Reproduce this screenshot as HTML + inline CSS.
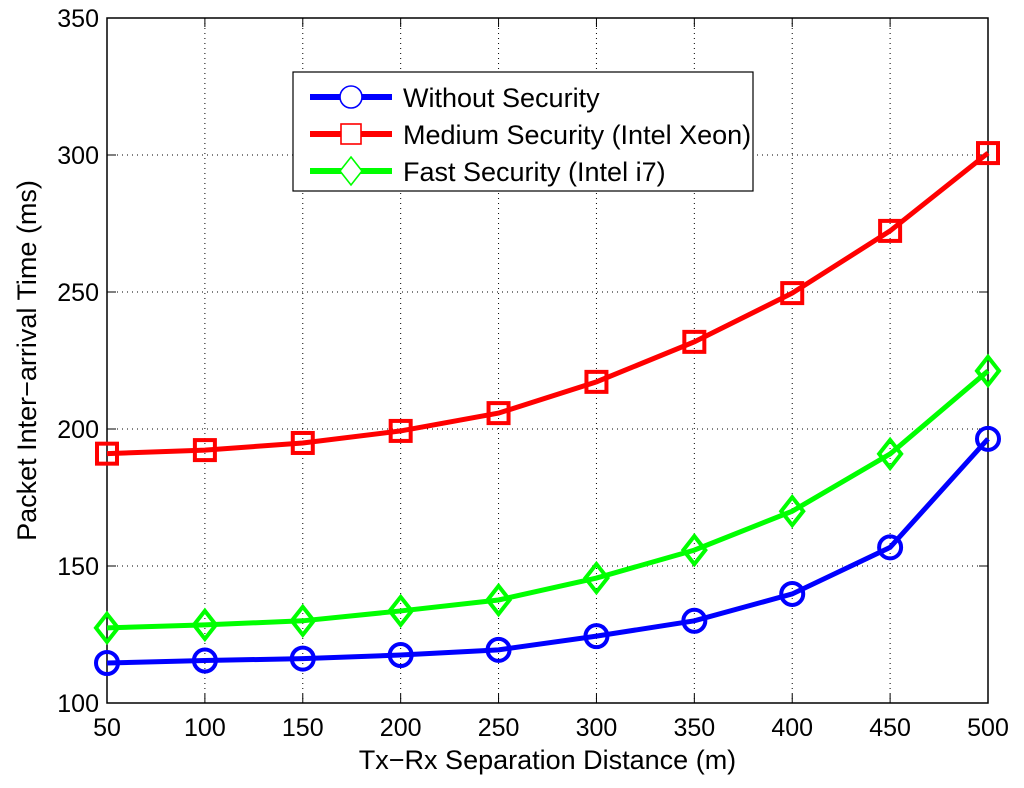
<!DOCTYPE html>
<html><head><meta charset="utf-8"><style>
body{margin:0;background:#fff;}
svg{display:block;font-family:"Liberation Sans",Arial,sans-serif;}
</style></head><body>
<svg id="chart" width="1024" height="788" viewBox="0 0 1024 788" xmlns="http://www.w3.org/2000/svg"></svg>
<script>
const categories=[50,100,150,200,250,300,350,400,450,500];
const withoutSecurity=[114.6,115.5,116.2,117.5,119.4,124.4,130,139.8,156.8,196.4];
const mediumSecurity=[191,192.3,194.9,199.3,205.8,217.2,231.8,249.6,272.3,300.7];
const fastSecurity=[127.4,128.5,130,133.6,137.6,145.6,155.8,170,190.9,221.2];
const xTicks=[50,100,150,200,250,300,350,400,450,500];
const yTicks=[100,150,200,250,300,350];

const L=107,R=988,T=18,B=703;
const xs=v=>L+(v-50)/(450)*(R-L);
const ys=v=>B-(v-100)/250*(B-T);
const svg=document.getElementById('chart');
const NS='http://www.w3.org/2000/svg';
function mk(tag,attrs,parent){const e=document.createElementNS(NS,tag);for(const k in attrs)e.setAttribute(k,attrs[k]);(parent||svg).appendChild(e);return e;}

const grid=mk('g',{});


xTicks.forEach(t=>{
  mk('line',{x1:xs(t),x2:xs(t),y1:T,y2:B,stroke:'#000','stroke-width':1,'stroke-dasharray':'1,4'},grid);
  const lab=mk('text',{x:xs(t),y:B+33,'text-anchor':'middle','font-size':25});
  lab.textContent=t;
  
  
  mk('line',{x1:xs(t),x2:xs(t),y1:B,y2:B-9,stroke:'#000'});
  mk('line',{x1:xs(t),x2:xs(t),y1:T,y2:T+9,stroke:'#000'});
});
yTicks.forEach(t=>{
  mk('line',{x1:L,x2:R,y1:ys(t),y2:ys(t),stroke:'#000','stroke-width':1,'stroke-dasharray':'1,4'},grid);
  const lab=mk('text',{x:L-8,y:ys(t)+9,'text-anchor':'end','font-size':25});
  lab.textContent=t;
  
  
  mk('line',{x1:L,x2:L+9,y1:ys(t),y2:ys(t),stroke:'#000'});
  mk('line',{x1:R,x2:R-9,y1:ys(t),y2:ys(t),stroke:'#000'});
});
const frame=mk('rect',{x:L,y:T,width:R-L,height:B-T,fill:'none',stroke:'#000','stroke-width':1.5});



function marker(g,type,x,y,color,w){
  if(type==='circle')mk('circle',{cx:x,cy:y,r:11,fill:w<3?'#fff':'none',stroke:color,'stroke-width':w},g);
  else if(type==='square')mk('rect',{x:x-10,y:y-10,width:20,height:20,fill:w<3?'#fff':'none',stroke:color,'stroke-width':w},g);
  else mk('polygon',{points:`${x},${y-14} ${x+11},${y} ${x},${y+14} ${x-11},${y}`,fill:w<3?'#fff':'none',stroke:color,'stroke-width':w},g);
}
function series(data,color,type,name){
  const g=mk('g',{});
  
  
  mk('polyline',{points:data.map((v,i)=>xs(categories[i])+','+ys(v)).join(' '),fill:'none',stroke:color,'stroke-width':5},g);
  data.forEach((v,i)=>marker(g,type,xs(categories[i]),ys(v),color,4));
}
series(mediumSecurity,'#ff0000','square','series-medium-security');
series(fastSecurity,'#00ff00','diamond','series-fast-security');
series(withoutSecurity,'#0000ff','circle','series-without-security');

const xt=mk('text',{x:(L+R)/2,y:769,'text-anchor':'middle','font-size':27});
xt.textContent='Tx−Rx Separation Distance (m)';


const yt=mk('text',{x:0,y:0,'text-anchor':'middle','font-size':27,transform:`translate(36,${(T+B)/2}) rotate(-90)`});
yt.textContent='Packet Inter−arrival Time (ms)';



const lg=mk('g',{});


mk('rect',{x:293,y:72,width:460,height:119,fill:'#fff',stroke:'#000','stroke-width':1.2},lg);
const entries=[['Without Security','#0000ff','circle',97],['Medium Security (Intel Xeon)','#ff0000','square',134],['Fast Security (Intel i7)','#00ff00','diamond',171]];
entries.forEach(([txt,c,tp,y])=>{
  const e=mk('g',{},lg);
  
  
  mk('line',{x1:310,x2:392,y1:y,y2:y,stroke:c,'stroke-width':6},e);
  marker(e,tp,351,y,c,1.6);
  const t=mk('text',{x:403,y:y+10,'font-size':27},e);
  t.textContent=txt;
});
</script>
</body></html>
